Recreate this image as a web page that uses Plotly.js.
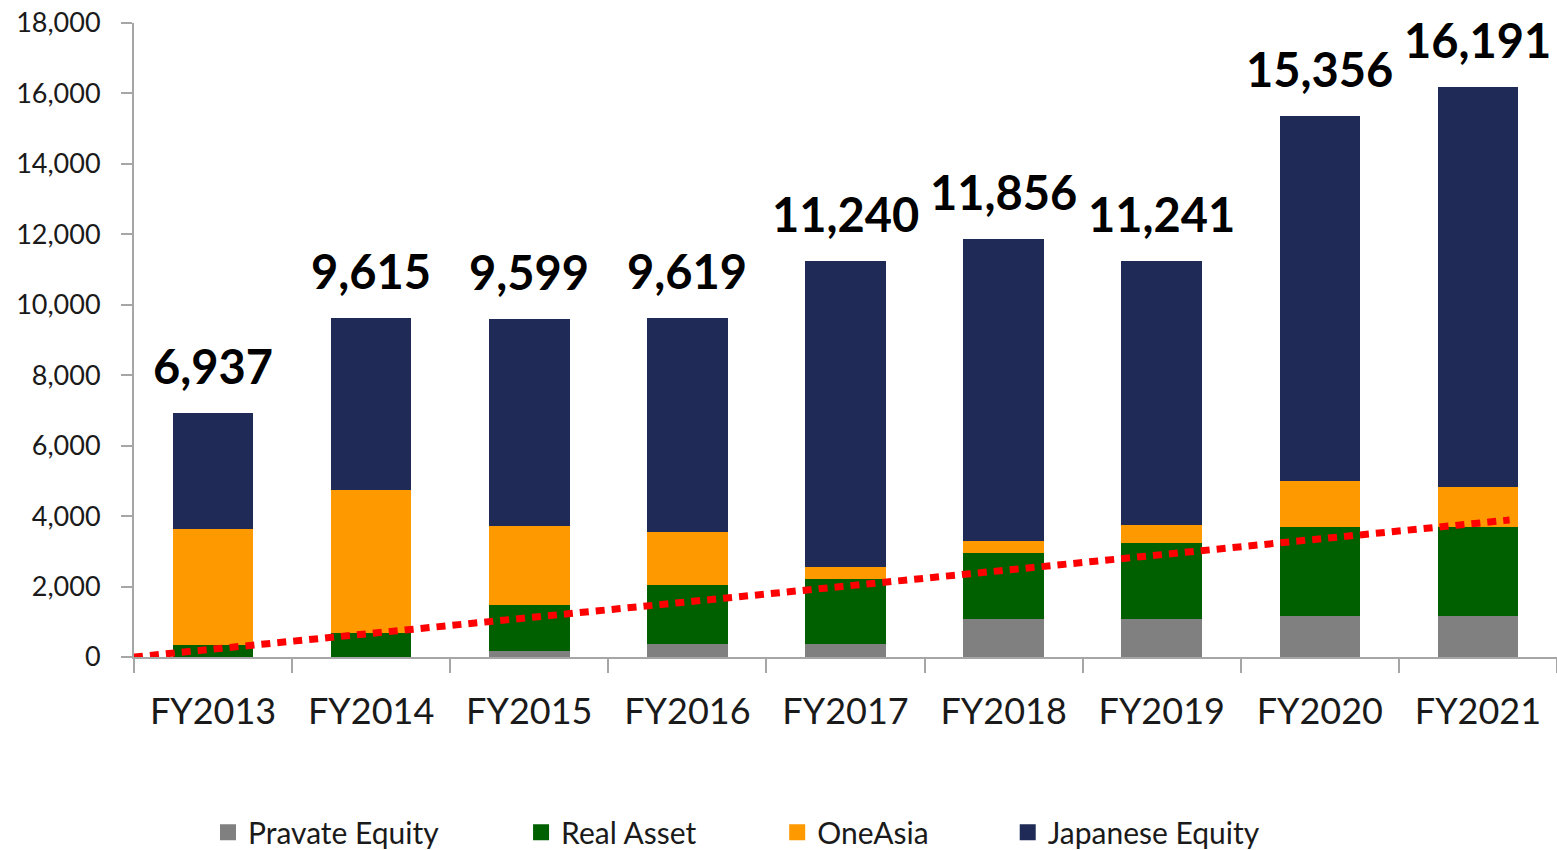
<!DOCTYPE html>
<html>
<head>
<meta charset="utf-8">
<script src="https://cdn.plot.ly/plotly-3.0.1.min.js"></script>
<style>html,body{margin:0;padding:0;background:#fff;}#chart{width:1557px;height:850px;}</style>
</head>
<body>
<div id="chart"></div>
<script>
const categories = ["FY2013","FY2014","FY2015","FY2016","FY2017","FY2018","FY2019","FY2020","FY2021"];
const privateEquity = [0, 0, 170, 370, 370, 1080, 1090, 1150, 1150];
const realAsset = [340, 690, 1300, 1670, 1840, 1880, 2150, 2550, 2550];
const oneAsia = [3290, 4055, 2240, 1500, 350, 340, 520, 1300, 1130];
const totals = [6937, 9615, 9599, 9619, 11240, 11856, 11241, 15356, 16191];
const japaneseEquity = totals.map((t, i) => t - privateEquity[i] - realAsset[i] - oneAsia[i]);
const trendX = [-0.5, 8.2];
const trendY = [0, 3890];
const yTickVals = [0,2000,4000,6000,8000,10000,12000,14000,16000,18000];
const yTickText = ["0","2,000","4,000","6,000","8,000","10,000","12,000","14,000","16,000","18,000"];
const seriesNames = ["Pravate Equity", "Real Asset", "OneAsia", "Japanese Equity"];

const FONT = "Lato, 'Open Sans', sans-serif";
const seriesColors = ["#808080", "#006000", "#FF9900", "#1F2A56"];
const seriesData = [privateEquity, realAsset, oneAsia, japaneseEquity];
const legendIds = ["legend", "legend2", "legend3", "legend4"];

const traces = [];
seriesNames.forEach((n, k) => {
  traces.push({type:"bar", name:n, x:categories, y:seriesData[k],
    marker:{color:seriesColors[k], line:{width:0}}, showlegend:false});
});
traces.push({type:"scatter", mode:"lines", x:trendX, y:trendY, xaxis:"x2", yaxis:"y",
   line:{color:"#FF0000", width:7, dash:"9px,7px"}, showlegend:false, hoverinfo:"skip"});
// legend entries (square swatches)
seriesNames.forEach((n, k) => {
  traces.push({type:"scatter", mode:"markers", name:n, x:[null], y:[null], xaxis:"x2",
    marker:{symbol:"square", size:16, color:seriesColors[k]}, legend:legendIds[k], showlegend:true});
});

const annotations = categories.map((c, i) => ({
  x:c, y:totals[i], xref:"x", yref:"y", text:totals[i].toLocaleString("en-US"),
  showarrow:false, yanchor:"bottom", yshift:17,
  font:{family:FONT, size:47, color:"#000", weight:700}
}));

const legendBase = {orientation:"h", yref:"container", yanchor:"middle", y:0.021, xanchor:"left",
  itemsizing:"trace", font:{family:FONT, size:30, color:"#1a1a1a"}, bgcolor:"rgba(0,0,0,0)"};

const layout = {
  width:1557, height:850,
  margin:{l:134, r:0, t:23, b:193, autoexpand:false},
  paper_bgcolor:"#fff", plot_bgcolor:"#fff",
  barmode:"stack", bargap:0.49,
  font:{family:FONT},
  xaxis:{type:"category", range:[-0.5,8.5], showline:true, linecolor:"#A6A6A6", linewidth:2,
    ticks:"outside", tickson:"boundaries", ticklen:14, tickwidth:2, tickcolor:"#A6A6A6",
    showgrid:false, zeroline:false, ticklabelstandoff:22,
    tickfont:{family:FONT, size:36, color:"#1a1a1a"}},
  xaxis2:{overlaying:"x", range:[-0.5,8.5], visible:false, showgrid:false, zeroline:false},
  yaxis:{range:[0,18000], tickvals:yTickVals, ticktext:yTickText, showline:true,
    linecolor:"#A6A6A6", linewidth:2, ticks:"outside", ticklen:11, tickwidth:2, tickcolor:"#A6A6A6",
    showgrid:false, zeroline:false, ticklabelstandoff:15,
    tickfont:{family:FONT, size:27, color:"#1a1a1a"}},
  annotations:annotations,
  legend:Object.assign({}, legendBase, {x:0.052}),
  legend2:Object.assign({}, legendBase, {x:0.272}),
  legend3:Object.assign({}, legendBase, {x:0.452}),
  legend4:Object.assign({}, legendBase, {x:0.614}),
  showlegend:true
};

Plotly.newPlot("chart", traces, layout, {displayModeBar:false, staticPlot:true});
</script>
</body>
</html>
